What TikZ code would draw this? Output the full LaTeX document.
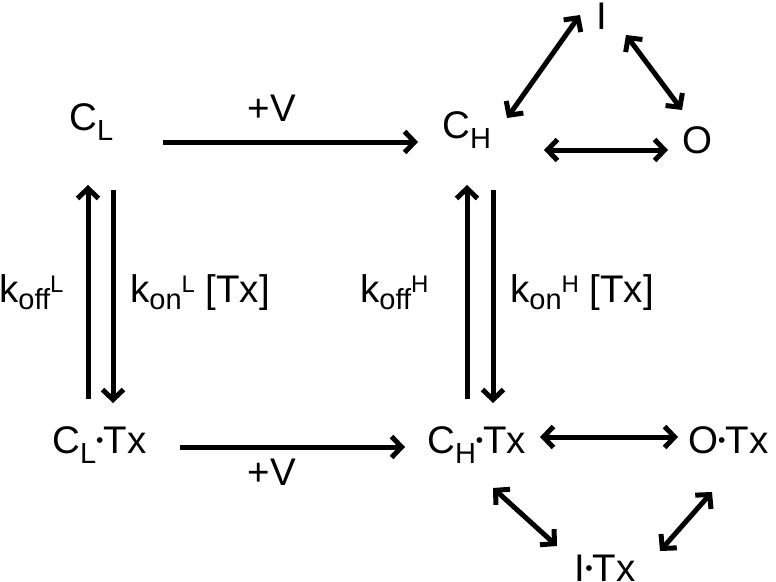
\documentclass[tikz,border=0pt]{standalone}
\usepackage{fontspec}
\setmainfont{Liberation Sans}
\usetikzlibrary{arrows.meta}

\newcommand{\lowtxt}[1]{\raisebox{-10pt}{\fontsize{29}{29}\selectfont #1}}
\newcommand{\ksub}[1]{\raisebox{-7pt}{\fontsize{29}{29}\selectfont #1}}
\newcommand{\hightxt}[1]{\raisebox{10pt}{\fontsize{24}{24}\selectfont #1}}
\newcommand{\bindot}{\raisebox{6pt}{\fontsize{21}{21}\selectfont •}}

\begin{document}
\begin{tikzpicture}[x=1pt,y=-1pt]

\tikzstyle{state} = [inner sep=0pt, font=\fontsize{38.5}{40}\selectfont]
\tikzstyle{arrow} = [line width=5pt,-{Straight Barb[length=10pt,width=21pt]}]
\tikzstyle{twoway} = [line width=5pt,{Straight Barb[length=10pt,width=21pt]}-{Straight Barb[length=10pt,width=21pt]}]

\useasboundingbox (0,0) rectangle (776,581);

\node (CL) [state, anchor=base west] at (69,130) {C\lowtxt{L}};
\node (CH) [state, anchor=base west] at (442,138) {C\lowtxt{H}};
\node (I) [state, anchor=base] at (602,29) {I};
\node (O) [state, anchor=base] at (697,153) {O};
\node (CLTx) [state, anchor=base west] at (52,453) {C\lowtxt{L}\bindot Tx};
\node (CHTx) [state, anchor=base west] at (427,453) {C\lowtxt{H}\bindot Tx};
\node (OTx) [state, anchor=base west] at (688,453) {O\bindot Tx};
\node (ITx) [state, anchor=base] at (605,581) {I\bindot Tx};

\node (vtop) [state] at (272,108) {+V};
\node (vbot) [state] at (272,472) {+V};
\node (koffL) [state, anchor=base west] at (-1,302) {k\ksub{off}\hightxt{L}};
\node (konL) [state, anchor=base west] at (130,302) {k\ksub{on}\hightxt{L} [Tx]};
\node (koffH) [state, anchor=base west] at (360,302) {k\ksub{off}\hightxt{H}};
\node (konH) [state, anchor=base west] at (510,302) {k\ksub{on}\hightxt{H} [Tx]};

\draw [arrow] ([xshift=94pt,yshift=-12pt]CL.base west) -- ([xshift=-24pt,yshift=-4pt]CH.base west);
\draw [arrow] ([xshift=36pt,yshift=54pt]CLTx.base west) -- ([xshift=19pt,yshift=-55pt]CL.base west);
\draw [arrow] ([xshift=44pt,yshift=-60pt]CL.base west) -- ([xshift=61pt,yshift=50pt]CLTx.base west);
\draw [arrow] ([xshift=40pt,yshift=54pt]CHTx.base west) -- ([xshift=25pt,yshift=-47pt]CH.base west);
\draw [arrow] ([xshift=51pt,yshift=-52pt]CH.base west) -- ([xshift=66pt,yshift=50pt]CHTx.base west);
\draw [arrow] ([xshift=128pt,yshift=6pt]CLTx.base west) -- ([xshift=-22pt,yshift=6pt]CHTx.base west);

\draw [twoway] ([xshift=65pt,yshift=20pt]CH.base west) -- ([xshift=-22pt,yshift=14pt]I.base);
\draw [twoway] ([xshift=24pt,yshift=-6pt]I.base) -- ([xshift=-15pt,yshift=43pt]O.base);
\draw [twoway] ([xshift=102pt,yshift=-12pt]CH.base west) -- ([xshift=-29pt,yshift=3pt]O.base);
\draw [twoway] ([xshift=113pt,yshift=16pt]CHTx.base west) -- ([xshift=-10pt,yshift=16pt]OTx.base west);
\draw [twoway] ([xshift=66pt,yshift=-35pt]CHTx.base west) -- ([xshift=-48pt,yshift=35pt]ITx.base);
\draw [twoway] ([xshift=24pt,yshift=-39pt]OTx.base west) -- ([xshift=55pt,yshift=30pt]ITx.base);

\end{tikzpicture}
\end{document}
